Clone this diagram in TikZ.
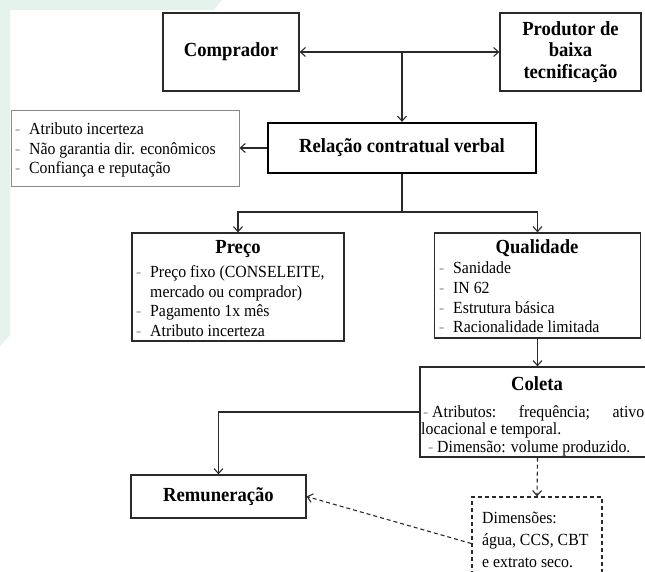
\documentclass[tikz,border=0pt]{standalone}
\usepackage{fontspec}
\setmainfont{Liberation Serif}[FakeStretch=0.93]
\usetikzlibrary{arrows.meta}
\definecolor{mint}{HTML}{E4F4EC}
\definecolor{ln}{HTML}{2A2A2A}
\definecolor{gbox}{HTML}{8A8A8A}
\definecolor{dashc}{HTML}{9A9A9A}
\newcommand\itm{\makebox[14pt][l]{\color{dashc}-}}
\newcommand\itms{\makebox[9pt][l]{\color{dashc}-}}
\begin{document}
\begin{tikzpicture}[x=1pt,y=-1pt,
  box/.style={draw=ln,line width=1.3pt,inner sep=0pt},
  bt/.style={font=\fontsize{20}{21.5}\selectfont\bfseries,align=center,inner sep=0pt},
  lt/.style={font=\fontsize{17}{19.7}\selectfont,align=left,inner sep=0pt,anchor=west},
  arr/.style={draw=ln,line width=1.1pt,-{Straight Barb[length=5pt,width=9pt]}},
  con/.style={draw=ln,line width=1.1pt}]
\useasboundingbox (0,0) rectangle (645,572);
\clip (0,0) rectangle (645,572);
\fill[white] (0,0) rectangle (645,572);
\fill[mint] (0,0) -- (222,0) -- (214,10) -- (10,10) -- (10,335) -- (0,346) -- cycle;

% boxes
\node[box,minimum width=136pt,minimum height=78pt] (comp) at (231,52) {};
\node[box,minimum width=141pt,minimum height=78pt] (prod) at (570.5,52) {};
\node[box,line width=2.3pt,draw=black,minimum width=268pt,minimum height=50pt] (rel) at (402,148) {};
\node[box,draw=gbox,line width=1pt,minimum width=228pt,minimum height=76pt] (lbox) at (125,149) {};
\node[box,minimum width=212pt,minimum height=108pt] (preco) at (238,287) {};
\node[box,minimum width=206pt,minimum height=105pt] (qual) at (537.5,285.5) {};
\node[box,minimum width=234pt,minimum height=90pt] (coleta) at (537,412) {};
\node[box,minimum width=175pt,minimum height=43pt] (rem) at (218.5,496.5) {};
\node[box,dashed,dash pattern=on 4pt off 3pt,minimum width=130pt,minimum height=93pt] (dbox) at (537,543.5) {};

% texts
\node[bt] (compt) at (comp) {Comprador};
\node[bt] (prodt) at (prod) {Produtor de\\baixa\\tecnificação};
\node[bt] (relt) at (rel) {Relação contratual verbal};
\node[lt] (ltxt) at (15,150) {\itm Atributo incerteza\\\itm Não garantia dir. econômicos\\\itm Confiança e reputação};
\node[bt] (precot) at (238,249) {Preço};
\node[lt] (precol) at (136,301) {\itm Preço fixo (CONSELEITE,\\\hspace*{14pt}mercado ou comprador)\\\itm Pagamento 1x mês\\\itm Atributo incerteza};
\node[bt] (qualt) at (537,248) {Qualidade};
\node[lt] (quall) at (439,297.5) {\itm Sanidade\\\itm IN 62\\\itm Estrutura básica\\\itm Racionalidade limitada};
\node[bt] (colt) at (537,384) {Coleta};
\node[lt,font=\fontsize{17}{17.6}\selectfont] (coll) at (423,430.5) {\hbox to 221pt{\itms Atributos:\hfill frequência;\hfill ativo}\\\hspace*{-2pt}locacional e temporal.\\\makebox[5pt][l]{}\itms Dimensão: volume produzido.};
\node[bt] (remt) at (rem) {Remuneração};
\node[lt,font=\fontsize{17}{22}\selectfont] (dtxt) at (482,540) {Dimensões:\\água, CCS, CBT\\e extrato seco.};

% connectors
\coordinate (junc) at (402,52);
\draw[arr] (junc) -- (comp.east);
\draw[arr] (junc) -- (prod.west);
\draw[arr] (junc) -- (rel.north);
\draw[arr] (rel.west) -- (rel.west -| lbox.east);
\coordinate (br) at (402,212);
\draw[con] (rel.south) -- (br);
\draw[arr] (br) -| (preco.north);
\draw[arr] (br) -| (qual.north);
\draw[arr] (qual.south) -- (qual.south |- coleta.north);
\draw[arr] (coleta.west) -| (rem.north);
\draw[arr,dashed,dash pattern=on 4pt off 3pt] (qual.south |- coleta.south) -- (dbox.north);
\draw[arr,dashed,dash pattern=on 4pt off 3pt] (dbox.west) -- (rem.east);
\end{tikzpicture}
\end{document}
